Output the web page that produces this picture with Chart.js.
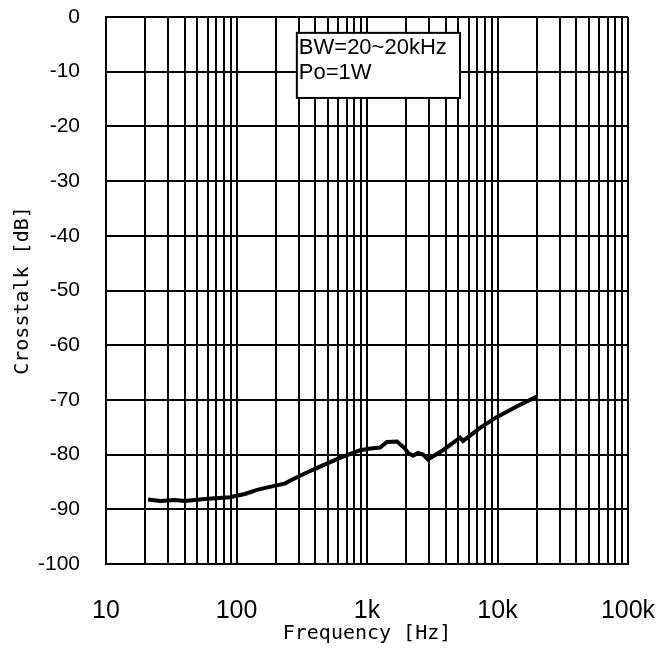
<!DOCTYPE html>
<html>
<head>
<meta charset="utf-8">
<script src="https://cdn.jsdelivr.net/npm/chart.js@4.4.0/dist/chart.umd.min.js"></script>
<style>
    html, body { margin: 0; padding: 0; background: #fff; }
</style>
</head>
<body>
<canvas id="crosstalk_chart" width="667" height="657"></canvas>
<script>
// data
const freq = [21, 26, 34, 40, 57, 89, 116, 146, 180, 234, 271, 330, 436, 620, 886, 1060, 1258, 1423, 1698, 1955, 2063, 2251, 2459, 2686, 2933, 3818, 5164, 5445, 7350, 9914, 14870, 20000]
const crosstalk = [-88.2, -88.5, -88.3, -88.5, -88.1, -87.8, -87.2, -86.4, -85.9, -85.3, -84.5, -83.5, -82.2, -80.6, -79.2, -78.9, -78.7, -77.7, -77.6, -78.9, -79.7, -80.2, -79.7, -80.0, -80.9, -79.2, -76.9, -77.5, -75.1, -73.1, -70.9, -69.4]

const decades = [10, 100, 1000, 10000, 100000]
const decadeLabels = ['10', '100', '1k', '10k', '100k']
const noteLines = ['BW=20~20kHz', 'Po=1W']
// note box corners in data units
const noteBox = { f1: 290, f2: 5160, v1: -2.9, v2: -14.8 }

const logTicks = []
decades.forEach((d, i) => {
    if (i === decades.length - 1) { logTicks.push(d); return }
    for (let m = 1; m <= 9; m++) logTicks.push(d * m)
})

const notePlugin = {
    id: 'notebox',
    beforeDatasetsDraw(chart) {
        const { ctx, scales: { x, y } } = chart
        const left = x.getPixelForValue(noteBox.f1)
        const right = x.getPixelForValue(noteBox.f2)
        const top = y.getPixelForValue(noteBox.v1)
        const bottom = y.getPixelForValue(noteBox.v2)
        ctx.save()
        ctx.fillStyle = '#fff'
        ctx.fillRect(left, top, right - left, bottom - top)
        ctx.strokeStyle = '#000'
        ctx.lineWidth = 2
        ctx.strokeRect(left, top, right - left, bottom - top)
        ctx.fillStyle = '#000'
        ctx.font = '22px "Liberation Sans", Arial, sans-serif'
        ctx.textBaseline = 'middle'
        noteLines.forEach((t, i) => ctx.fillText(t, left + 2, top + 15 + i * 25))
        ctx.restore()
    }
}

const crosstalk_chart = document.querySelector('#crosstalk_chart')
function crosstalkChart() {
    new Chart(crosstalk_chart, {
        type: 'line',
        data: {
            datasets: [{
                label: 'crosstalk',
                data: freq.map((f, i) => ({ x: f, y: crosstalk[i] })),
                borderColor: '#000',
                borderWidth: 4,
                pointRadius: 0,
                fill: false,
                tension: 0
            }]
        },
        options: {
            responsive: false,
            animation: false,
            layout: { padding: { top: 17, right: 39, left: 0, bottom: 0 } },
            plugins: { legend: { display: false }, tooltip: { enabled: false } },
            scales: {
                x: {
                    type: 'logarithmic',
                    min: 10,
                    max: 100000,
                    afterBuildTicks: (scale) => { scale.ticks = logTicks.map(v => ({ value: v })) },
                    afterFit: (scale) => {
                        scale.height = 93
                        scale.paddingLeft = 0
                        scale.paddingRight = 0
                    },
                    grid: { color: '#000', lineWidth: 2, drawTicks: false },
                    border: { color: '#000', width: 2 },
                    ticks: {
                        autoSkip: false,
                        maxRotation: 0,
                        padding: 32,
                        color: '#000',
                        font: { family: '"Liberation Sans", Arial, sans-serif', size: 25 },
                        callback: (value) => {
                            const i = decades.indexOf(value)
                            return i >= 0 ? decadeLabels[i] : ''
                        }
                    },
                    title: {
                        display: true,
                        text: 'Frequency [Hz]',
                        color: '#000',
                        padding: { top: 0, bottom: 11 },
                        font: { family: '"DejaVu Sans Mono", monospace', size: 20 }
                    }
                },
                y: {
                    min: -100,
                    max: 0,
                    afterFit: (scale) => {
                        scale.width = 106
                        scale.paddingTop = 0
                        scale.paddingBottom = 0
                    },
                    grid: { color: '#000', lineWidth: 2, drawTicks: false },
                    border: { color: '#000', width: 2 },
                    ticks: {
                        stepSize: 10,
                        padding: 26,
                        color: '#000',
                        font: { family: '"Liberation Sans", Arial, sans-serif', size: 21 }
                    },
                    title: {
                        display: true,
                        text: 'Crosstalk [dB]',
                        color: '#000',
                        padding: { top: 11, bottom: 0 },
                        font: { family: '"DejaVu Sans Mono", monospace', size: 20 }
                    }
                }
            }
        },
        plugins: [notePlugin]
    });
}

crosstalkChart()
</script>
</body>
</html>
